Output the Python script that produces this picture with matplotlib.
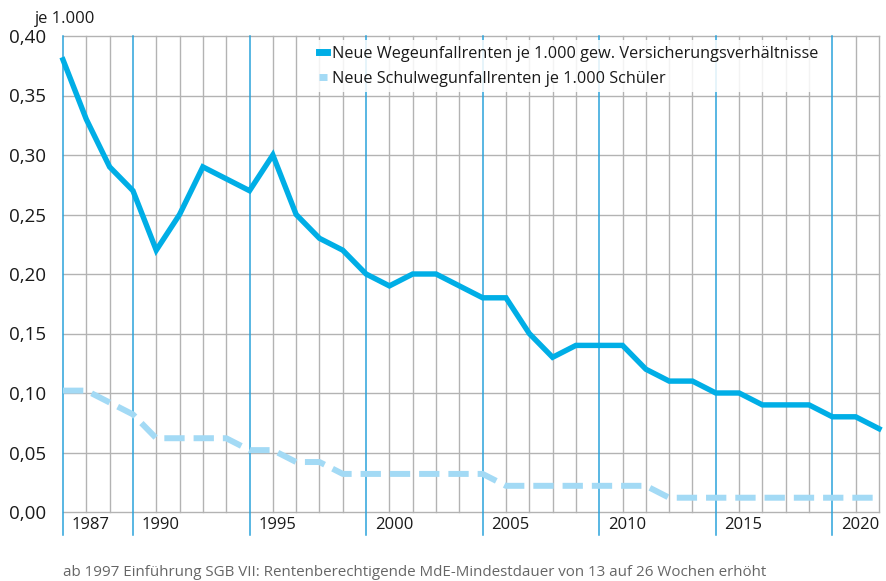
import numpy as np
import matplotlib
matplotlib.use("Agg")
import matplotlib.pyplot as plt

plt.rcParams['font.family'] = ['Open Sans', 'DejaVu Sans']

jahre = list(range(1987, 2023))
wege = [0.38, 0.33, 0.29, 0.27, 0.22, 0.25, 0.29, 0.28, 0.27, 0.30,
        0.25, 0.23, 0.22, 0.20, 0.19, 0.20, 0.20, 0.19, 0.18, 0.18,
        0.15, 0.13, 0.14, 0.14, 0.14, 0.12, 0.11, 0.11, 0.10, 0.10,
        0.09, 0.09, 0.09, 0.08, 0.08, 0.07]
schul = [0.102, 0.102, 0.092, 0.082, 0.062, 0.062, 0.062, 0.062, 0.052, 0.052,
         0.042, 0.042, 0.032, 0.032, 0.032, 0.032, 0.032, 0.032, 0.032, 0.022,
         0.022, 0.022, 0.022, 0.022, 0.022, 0.022, 0.012, 0.012, 0.012, 0.012,
         0.012, 0.012, 0.012, 0.012, 0.012, 0.012]
label_jahre = [1987, 1990, 1995, 2000, 2005, 2010, 2015, 2020]
y_ticks = [0.00, 0.05, 0.10, 0.15, 0.20, 0.25, 0.30, 0.35, 0.40]

blau = '#00aee6'
hellblau = '#a3daf5'
linienblau = '#2ba3db'
grau = '#b3b3b3'

fig = plt.figure(figsize=(8.87, 5.81), dpi=100)
ax = fig.add_axes([63/887, 1 - 512/581, (879 - 63)/887, (512 - 36)/581])

ax.set_xlim(1987, 2022)
ax.set_ylim(0, 0.40)

# Gitter
for y in y_ticks:
    ax.axhline(y, color=grau, lw=1, zorder=0, clip_on=False)
for j in jahre:
    if j in label_jahre:
        ax.axvline(j, ymin=-0.048, ymax=1, color=linienblau, lw=1.1, zorder=1, clip_on=False)
    else:
        ax.axvline(j, color=grau, lw=1, zorder=0, clip_on=False)

ax.plot(jahre, wege, color=blau, lw=3.9, solid_joinstyle='miter', zorder=3,
        label='Neue Wegeunfallrenten je 1.000 gew. Versicherungsverhältnisse', clip_on=False)
ax.plot(jahre, schul, color=hellblau, lw=4.3, dashes=(3.4, 1.5), dash_capstyle='butt', zorder=2,
        label='Neue Schulwegunfallrenten je 1.000 Schüler', clip_on=False)

for s in ax.spines.values():
    s.set_visible(False)

ax.set_xticks([])
ax.set_yticks(y_ticks)
ax.set_yticklabels([f'{v:.2f}'.replace('.', ',') for v in y_ticks], fontsize=13.5, color='#1a1a1a')
ax.tick_params(axis='y', length=0, pad=12)

for j in label_jahre:
    ax.text(j + 0.37, -0.011, str(j), ha='left', va='center', fontsize=12, color='#1a1a1a')

leg = ax.legend(loc='upper left', bbox_to_anchor=(0.305, 0.995), frameon=True, fontsize=11.7,
                handlelength=0.5, handletextpad=0.3, labelspacing=0.55, borderpad=0.35,
                borderaxespad=0.1)
leg.get_frame().set_facecolor('white')
leg.get_frame().set_edgecolor('none')
leg.get_frame().set_alpha(0.85)
for t in leg.get_texts():
    t.set_color('#1a1a1a')
for h in leg.get_lines():
    h.set_linewidth(5)

fig.text(35/887, 1 - 19/581, 'je 1.000', fontsize=12, color='#1a1a1a', va='center', ha='left')
fig.text(63/887, 1 - 572/581, 'ab 1997 Einführung SGB VII: Rentenberechtigende MdE-Mindestdauer von 13 auf 26 Wochen erhöht',
         fontsize=10.9, color='#666666', va='center', ha='left')

fig.savefig('out.png', dpi=100)
